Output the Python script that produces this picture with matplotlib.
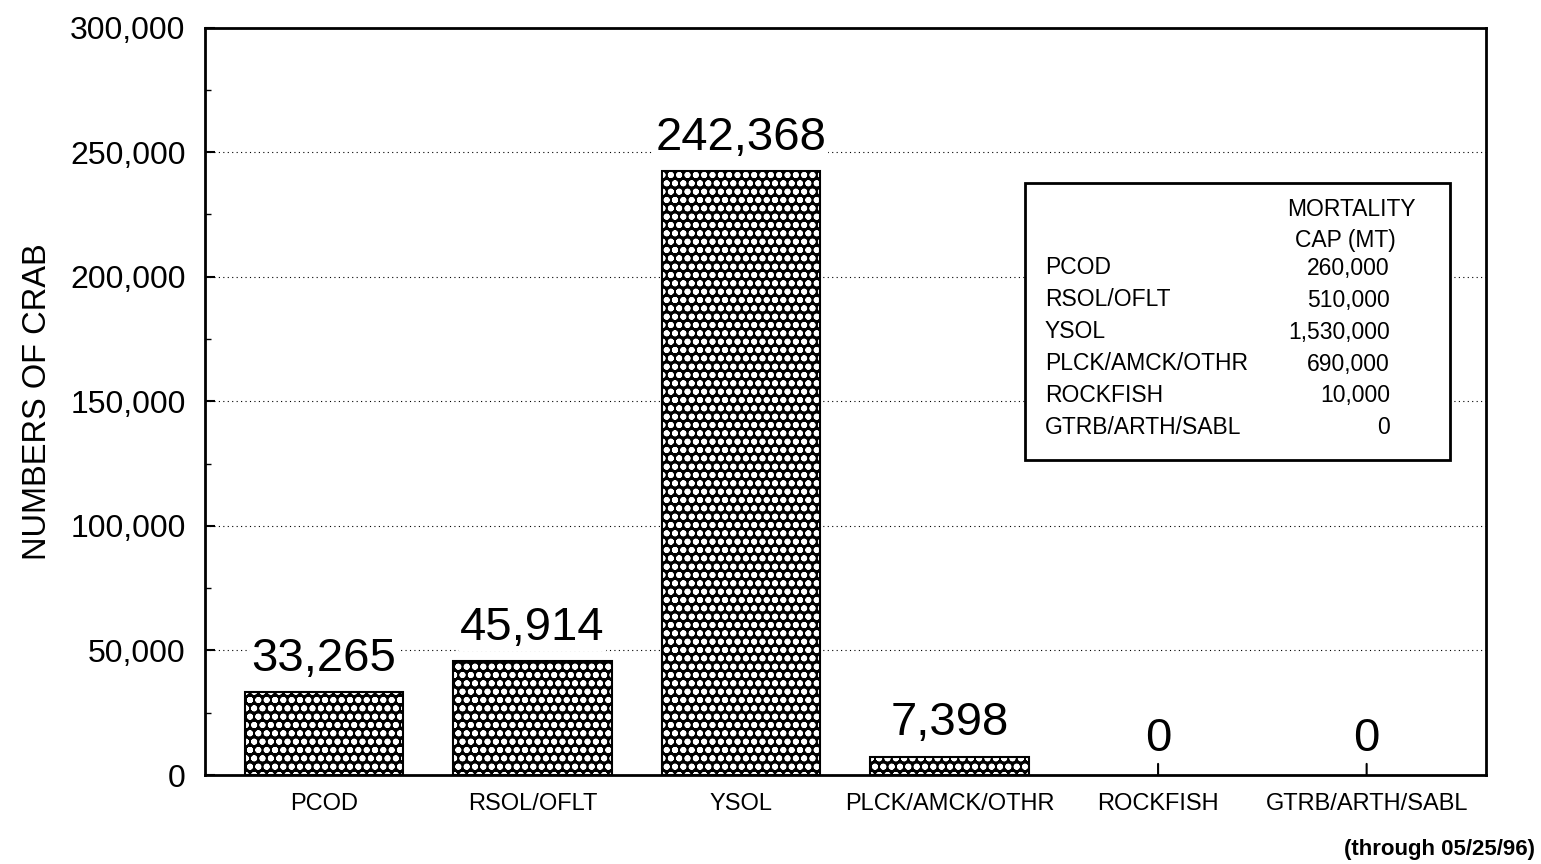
import matplotlib
matplotlib.use("Agg")
import matplotlib.pyplot as plt
from matplotlib.ticker import FuncFormatter, MultipleLocator
from matplotlib.patches import Rectangle

plt.rcParams['font.family'] = ['Liberation Sans', 'DejaVu Sans']
plt.rcParams['hatch.color'] = 'white'
plt.rcParams['hatch.linewidth'] = 1.9

# bycatch of crab by fishery
fisheries = ['PCOD', 'RSOL/OFLT', 'YSOL', 'PLCK/AMCK/OTHR', 'ROCKFISH', 'GTRB/ARTH/SABL']
crab = [33265, 45914, 242368, 7398, 0, 0]

# mortality cap table
cap_names = ['PCOD', 'RSOL/OFLT', 'YSOL', 'PLCK/AMCK/OTHR', 'ROCKFISH', 'GTRB/ARTH/SABL']
cap_values = ['260,000', '510,000', '1,530,000', '690,000', '10,000', '0']

fig = plt.figure(figsize=(15.41, 8.64), dpi=100)
ax = fig.add_axes([0.133, 0.103, 0.831, 0.865])

x = list(range(len(fisheries)))
nz = [i for i in x if crab[i] > 0]
ax.bar(nz, [crab[i] for i in nz], width=0.76, color='black', hatch='oo', zorder=2)
ax.bar(nz, [crab[i] for i in nz], width=0.76, fill=False, edgecolor='black',
       linewidth=1.5, zorder=3)

ax.set_xlim(-0.57, 5.57)
ax.set_ylim(0, 300000)
ax.yaxis.set_major_locator(MultipleLocator(50000))
ax.yaxis.set_minor_locator(MultipleLocator(25000))
ax.yaxis.set_major_formatter(FuncFormatter(lambda v, p: '{:,.0f}'.format(v)))
ax.tick_params(axis='y', which='major', direction='in', length=7, width=1.5,
               labelsize=23, pad=14)
ax.tick_params(axis='y', which='minor', direction='in', length=4, width=1)
ax.set_xticks(x)
ax.set_xticklabels(fisheries)
ax.tick_params(axis='x', length=0, labelsize=17, pad=13)
ax.grid(axis='y', which='major', linestyle=(0, (1, 3)), color='black', linewidth=0.8, zorder=1)
ax.set_axisbelow(True)
for s in ax.spines.values():
    s.set_linewidth(2)

ax.set_ylabel('NUMBERS OF CRAB', fontsize=23.5, labelpad=12)

for i, v in enumerate(crab):
    if v > 0:
        ax.annotate('{:,}'.format(v), xy=(i, v), xytext=(0, 8), textcoords='offset points',
                    ha='center', va='bottom', fontsize=34, zorder=4,
                    bbox=dict(facecolor='white', edgecolor='none', pad=1))
    else:
        ax.annotate('0', xy=(i, v), xytext=(0, 10), textcoords='offset points',
                    ha='center', va='bottom', fontsize=34, zorder=4,
                    arrowprops=dict(arrowstyle='-', lw=1.5, color='black',
                                    shrinkA=0, shrinkB=0))

# inset table with mortality caps
W, H = 1541.0, 864.0
fig.patches.append(Rectangle((1025 / W, 1 - 460 / H), 425 / W, 277 / H,
                             transform=fig.transFigure, facecolor='white',
                             edgecolor='black', linewidth=2, zorder=5))
fig.text(1351 / W, 1 - 209 / H, 'MORTALITY', ha='center', va='center', fontsize=16.5, zorder=6)
fig.text(1345 / W, 1 - 241 / H, 'CAP (MT)', ha='center', va='center', fontsize=16.5, zorder=6)
for k, (n, c) in enumerate(zip(cap_names, cap_values)):
    yy = 1 - (268 + 32 * k) / H
    fig.text(1045 / W, yy, n, ha='left', va='center', fontsize=16.5, zorder=6)
    fig.text(1390 / W, yy, c, ha='right', va='center', fontsize=16.5, zorder=6)

fig.text(1535 / W, 1 - 850 / H, '(through 05/25/96)', ha='right', va='center',
         fontsize=16, fontweight='bold')

fig.savefig('out.png', dpi=100)
